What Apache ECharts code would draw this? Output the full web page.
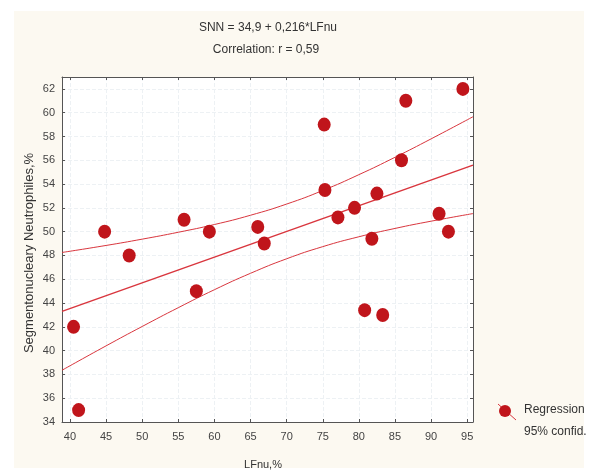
<!DOCTYPE html>
<html>
<head>
<meta charset="utf-8">
<script src="https://cdn.jsdelivr.net/npm/echarts@6/dist/echarts.min.js"></script>
<style>
html, body { margin: 0; padding: 0; background: #fff; }
#chart { width: 589px; height: 472px; }
</style>
</head>
<body>
<div id="chart"></div>
<script>
// LFnu, % (x) and segmented neutrophils, % (y)
var lfnu = [40.5, 41.2, 44.8, 48.2, 55.8, 57.5, 59.3, 66.0, 66.9, 75.2, 75.3,
            77.1, 79.4, 80.8, 81.8, 82.5, 83.3, 85.9, 86.5, 91.1, 92.4, 94.4];
var snn = [42.0, 35.0, 50.0, 48.0, 51.0, 45.0, 50.0, 50.4, 49.0, 59.0, 53.5,
           51.2, 52.0, 43.4, 49.4, 53.2, 43.0, 56.0, 61.0, 51.5, 50.0, 62.0];

// regression line ends and 95% bands
var regX = [38.9, 95.8];
var regY = [43.30, 55.59];
var bandX = [38.9, 45, 50, 55, 60, 65, 70, 75, 80, 85, 90, 95.8];
var upperY = [48.25, 48.84, 49.37, 49.95, 50.60, 51.38, 52.32, 53.46, 54.79, 56.25, 57.80, 59.66];
var lowerY = [38.35, 40.40, 42.03, 43.61, 45.12, 46.50, 47.72, 48.74, 49.57, 50.27, 50.88, 51.52];

var xTicks = [40, 45, 50, 55, 60, 65, 70, 75, 80, 85, 90, 95];
var yTicks = [34, 36, 38, 40, 42, 44, 46, 48, 50, 52, 54, 56, 58, 60, 62];

function pairs(xs, ys) {
    var out = [];
    for (var i = 0; i < xs.length; i++) out.push([xs[i], ys[i]]);
    return out;
}

var textColor = '#444';
var lineRed = '#d9363e';
var dotRed = '#c0151b';
var font = '"Liberation Sans"';

var chart = echarts.init(document.getElementById('chart'));

function xAxisDef(pos, showLabel) {
    return {
        type: 'value',
        position: pos,
        min: 38.9,
        max: 95.8,
        axisLine: { show: true, onZero: false, lineStyle: { color: '#555', width: 1 } },
        axisTick: { show: true, inside: true, length: 3, customValues: xTicks, lineStyle: { color: '#555' } },
        axisLabel: {
            show: showLabel, customValues: xTicks, margin: 9,
            color: textColor, fontFamily: 'Liberation Sans', fontSize: 11
        },
        splitLine: {
            show: showLabel, customValues: xTicks,
            lineStyle: { color: '#edf1f4', type: 'dashed', width: 1 }
        }
    };
}

function yAxisDef(pos, showLabel) {
    return {
        type: 'value',
        position: pos,
        min: 34,
        max: 63,
        axisLine: { show: true, onZero: false, lineStyle: { color: '#555', width: 1 } },
        axisTick: { show: true, inside: true, length: 3, customValues: yTicks, lineStyle: { color: '#555' } },
        axisLabel: {
            show: showLabel, customValues: yTicks, margin: 7,
            color: textColor, fontFamily: 'Liberation Sans', fontSize: 11
        },
        splitLine: {
            show: showLabel, customValues: yTicks,
            lineStyle: { color: '#edf1f4', type: 'dashed', width: 1 }
        }
    };
}

var option = {
    backgroundColor: '#fff',
    animation: false,
    graphic: [
        { type: 'rect', z: -10, shape: { x: 14, y: 11, width: 570, height: 457 }, style: { fill: '#fcf9f1' } },
        { type: 'text', style: { x: 268, y: 22, text: 'SNN = 34,9 + 0,216*LFnu', fill: '#333', font: '12px ' + font, textAlign: 'center' } },
        { type: 'text', style: { x: 266, y: 44, text: 'Correlation: r = 0,59', fill: '#333', font: '12px ' + font, textAlign: 'center' } },
        { type: 'text', rotation: Math.PI / 2, x: 29, y: 253, style: { text: 'Segmentonucleary Neutrophiles,%', fill: '#333', font: '13px ' + font, textAlign: 'center', textVerticalAlign: 'middle' } },
        { type: 'text', style: { x: 263, y: 459, text: 'LFnu,%', fill: '#333', font: '11px ' + font, textAlign: 'center' } },
        // legend
        { type: 'line', shape: { x1: 498, y1: 404, x2: 516, y2: 420 }, style: { stroke: lineRed, lineWidth: 1 } },
        { type: 'circle', shape: { cx: 505, cy: 411, r: 6 }, style: { fill: dotRed } },
        { type: 'text', style: { x: 524, y: 404, text: 'Regression', fill: '#333', font: '12px ' + font } },
        { type: 'text', style: { x: 524, y: 426, text: '95% confid.', fill: '#333', font: '12px ' + font } }
    ],
    grid: { left: 62, top: 77, width: 411, height: 345, show: true, backgroundColor: '#fff', borderWidth: 0 },
    xAxis: [
        xAxisDef('bottom', true),
        xAxisDef('top', false)
    ],
    yAxis: [
        yAxisDef('left', true),
        yAxisDef('right', false)
    ],
    series: [
        {
            name: 'upper', type: 'line', data: pairs(bandX, upperY), smooth: true,
            showSymbol: false, lineStyle: { color: lineRed, width: 1 }, z: 2
        },
        {
            name: 'lower', type: 'line', data: pairs(bandX, lowerY), smooth: true,
            showSymbol: false, lineStyle: { color: lineRed, width: 1 }, z: 2
        },
        {
            name: 'fit', type: 'line', data: pairs(regX, regY),
            showSymbol: false, lineStyle: { color: lineRed, width: 1.5 }, z: 2
        },
        {
            name: 'Regression', type: 'scatter', data: pairs(lfnu, snn),
            symbolSize: [13, 14], itemStyle: { color: dotRed, opacity: 1 }, z: 3
        }
    ]
};
chart.setOption(option);
</script>
</body>
</html>
